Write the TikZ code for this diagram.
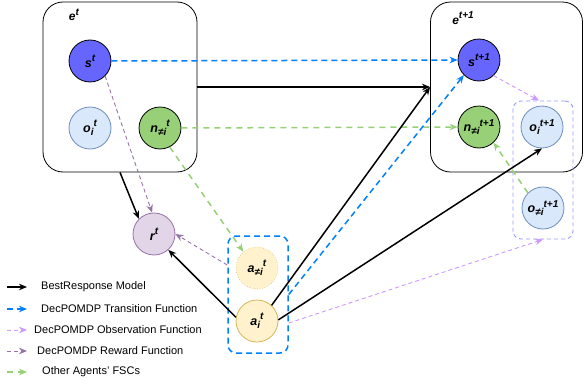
\documentclass[tikz,border=0pt]{standalone}
\usepackage{fontspec}
\setmainfont{Liberation Sans}
\usetikzlibrary{arrows.meta}
\definecolor{sfill}{HTML}{6666FF}
\definecolor{gfill}{HTML}{97D077}
\definecolor{ofill}{HTML}{DAE8FC}
\definecolor{oline}{HTML}{6C8EBF}
\definecolor{rfill}{HTML}{E1D5E7}
\definecolor{rline}{HTML}{9673A6}
\definecolor{afill}{HTML}{FFF2CC}
\definecolor{aline}{HTML}{D6B656}
\definecolor{tblue}{HTML}{007FFF}
\definecolor{obspink}{HTML}{CC99FF}
\definecolor{obox}{HTML}{9999FF}
\newcommand\myup[1]{\raisebox{0.45em}{\fontsize{10}{12}\selectfont #1}}
\newcommand\mydn[1]{\raisebox{-0.25em}{\fontsize{10}{12}\selectfont #1}}
\tikzset{
  var/.style={circle, minimum size=42pt, inner sep=0pt, font=\fontsize{12.5}{14}\selectfont\bfseries\itshape},
  envbox/.style={draw=black, line width=0.8pt, rounded corners=20pt, minimum width=#1, minimum height=170pt, inner sep=0pt},
  grpbox/.style={rounded corners=8pt, inner sep=0pt},
  lbl/.style={font=\fontsize{12}{14}\selectfont\bfseries\itshape, inner sep=0pt},
  tip/.style={-{Stealth[length=8pt,width=6.5pt,inset=2.5pt]}},
  best/.style={tip, line width=1.5pt, black},
  trans/.style={tip, line width=1.5pt, tblue, dash pattern=on 6pt off 4pt},
  obsf/.style={tip, line width=0.9pt, obspink, dash pattern=on 4pt off 3pt},
  rewf/.style={tip, line width=0.9pt, rline, dash pattern=on 4pt off 3pt},
  fsc/.style={tip, line width=1.5pt, gfill, dash pattern=on 6pt off 5pt},
  legtxt/.style={anchor=west, inner sep=0pt, font=\fontsize{11}{13}\selectfont}
}
\begin{document}
\begin{tikzpicture}[x=1pt,y=-1pt]
\useasboundingbox (0,0) rectangle (584,388);
% environment boxes
\node[envbox=154pt] (et) at (120,87) {};
\node[envbox=152pt] (et1) at (506.5,87) {};
\node[lbl] (etl) at (74,15) {e\myup{t}};
\node[lbl] (et1l) at (463,18) {e\myup{t+1}};
% group boxes
\node[grpbox, draw=obox, line width=0.9pt, dash pattern=on 4pt off 3pt, minimum width=60pt, minimum height=138pt] (ob) at (543,170) {};
\node[grpbox, draw=tblue, line width=1.5pt, dash pattern=on 6pt off 4pt, minimum width=60pt, minimum height=117pt] (ag) at (258,294.5) {};
% variables at t
\node[var, fill=sfill, draw=black, line width=0.8pt] (st) at (90,61) {s\myup{t}};
\node[var, fill=ofill, draw=oline, line width=0.8pt] (ot) at (90,128) {o\mydn{i}\myup{t}};
\node[var, fill=gfill, draw=black, line width=0.8pt] (nt) at (160,128) {n\mydn{≠i}\myup{t}};
\node[var, fill=rfill, draw=rline, line width=0.8pt] (rt) at (154,234) {r\myup{t}};
\node[var, fill=afill, draw=aline, line width=0.6pt, dotted] (ant) at (257,268) {a\mydn{≠i}\myup{t}};
\node[var, fill=afill, draw=aline, line width=0.8pt] (ai) at (257,321) {a\mydn{i}\myup{t}};
% variables at t+1
\node[var, fill=sfill, draw=black, line width=0.8pt] (st1) at (479,60) {s\myup{t+1}};
\node[var, fill=gfill, draw=black, line width=0.8pt] (nt1) at (479,127) {n\mydn{≠i}\myup{t+1}};
\node[var, fill=ofill, draw=oline, line width=0.8pt] (oi1) at (542,127) {o\mydn{i}\myup{t+1}};
\node[var, fill=ofill, draw=oline, line width=0.8pt] (on1) at (543,208) {o\mydn{≠i}\myup{t+1}};
% connectors
\draw[trans] (st.east) -- (st1.west);
\draw[best] (et.east) -- (et1.west);
\draw[fsc] (nt.east) -- (nt1.west);
\draw[rewf] (st.-45) -- (rt.95);
\draw[fsc] (nt.-63) -- (ant.130);
\draw[best] (et.south) -- (rt.135);
\draw[rewf] ([yshift=29.5pt]ag.west) -- (rt.east);
\draw[best] (ai.170) -- (rt.-48);
\draw[best] (ai.47) -- (et1.west);
\draw[trans] (ag.east) -- (st1.225);
\draw[best] (ai.3) -- (oi1.south);
\draw[obsf] ([yshift=-28.5pt]ag.east) -- (ob.south);
\draw[obsf] (st1.-47) -- ([xshift=-4pt]ob.north);
\draw[fsc] (on1.135) -- (nt1.-47);
% legend
\coordinate (l1a) at (7,287); \coordinate (l1b) at (27,287);
\coordinate (l2a) at (7,309); \coordinate (l2b) at (27,309);
\coordinate (l3a) at (7,330); \coordinate (l3b) at (27,330);
\coordinate (l4a) at (7,351); \coordinate (l4b) at (27,351);
\coordinate (l5a) at (7,372); \coordinate (l5b) at (27,372);
\draw[best] (l1a) -- (l1b);
\draw[trans] (l2a) -- (l2b);
\draw[obsf] (l3a) -- (l3b);
\draw[rewf] (l4a) -- (l4b);
\draw[fsc] (l5a) -- (l5b);
\node[legtxt] (t1) at (41,287) {BestResponse Model};
\node[legtxt] (t2) at (41,309) {DecPOMDP Transition Function};
\node[legtxt] (t3) at (34,330) {DecPOMDP Observation Function};
\node[legtxt] (t4) at (37,351) {DecPOMDP Reward Function};
\node[legtxt] (t5) at (42,372) {Other Agents' FSCs};
\end{tikzpicture}
\end{document}
